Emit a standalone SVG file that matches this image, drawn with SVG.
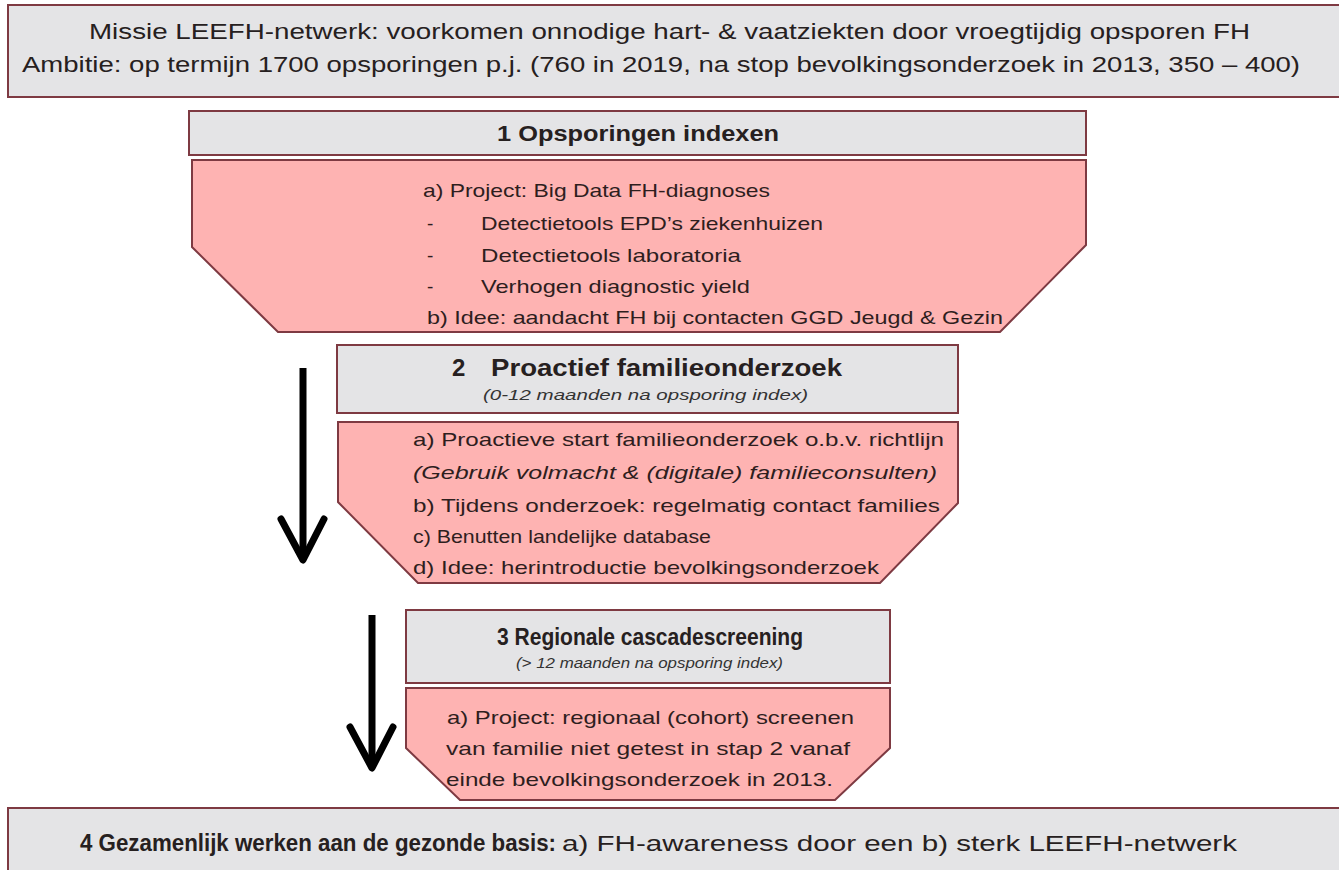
<svg xmlns="http://www.w3.org/2000/svg" width="1339" height="870" viewBox="0 0 1339 870">
<style>
.gray{fill:#e4e4e6;stroke:#7e3a42;stroke-width:2}
.pink{fill:#feb3b2;stroke:#7e3a42;stroke-width:2}
text{font-family:"Liberation Sans",Arial,sans-serif;fill:#262020}
.t1{font-size:22px}
.h{font-size:22px;font-weight:bold}
.h2{font-size:24px;font-weight:bold}
.b{font-size:19px;fill:#2e1e1e}
.s{font-size:14px;font-style:italic;fill:#333}
.i{font-style:italic}
.arrow{stroke:#000;stroke-width:7;fill:none}
</style>
<defs>
<marker id="chev" markerUnits="userSpaceOnUse" orient="auto" refX="0" refY="0" markerWidth="60" markerHeight="60" overflow="visible">
<path d="M -41 -21 L 0 0 L -41 22" fill="none" stroke="#000" stroke-width="7" stroke-linejoin="round" stroke-linecap="round"/>
</marker>
</defs>
<rect width="1339" height="870" fill="#ffffff"/>

<g id="missie">
<rect class="gray" x="8" y="5" width="1345" height="92"/>
<text class="t1" x="89" y="39" textLength="1161" lengthAdjust="spacingAndGlyphs">Missie LEEFH-netwerk: voorkomen onnodige hart- &amp; vaatziekten door vroegtijdig opsporen FH</text>
<text class="t1" x="22" y="72" textLength="1278" lengthAdjust="spacingAndGlyphs">Ambitie: op termijn 1700 opsporingen p.j. (760 in 2019, na stop bevolkingsonderzoek in 2013, 350 – 400)</text>
</g>

<g id="stap1">
<rect class="gray" x="189" y="111" width="897" height="44"/>
<text class="h" x="497" y="141" textLength="282" lengthAdjust="spacingAndGlyphs">1 Opsporingen indexen</text>
<polygon class="pink" points="192,160 1086,160 1086,245 1000,332 278,332 192,247"/>
<text class="b" x="423" y="197" textLength="347" lengthAdjust="spacingAndGlyphs">a) Project: Big Data FH-diagnoses</text>
<text class="b" x="427" y="230">-</text>
<text class="b" x="481" y="230" textLength="342" lengthAdjust="spacingAndGlyphs">Detectietools EPD’s ziekenhuizen</text>
<text class="b" x="427" y="262">-</text>
<text class="b" x="481" y="262" textLength="260" lengthAdjust="spacingAndGlyphs">Detectietools laboratoria</text>
<text class="b" x="427" y="293">-</text>
<text class="b" x="481" y="293" textLength="269" lengthAdjust="spacingAndGlyphs">Verhogen diagnostic yield</text>
<text class="b" x="427" y="324" textLength="576" lengthAdjust="spacingAndGlyphs">b) Idee: aandacht FH bij contacten GGD Jeugd &amp; Gezin</text>
</g>

<g id="stap2">
<rect class="gray" x="337" y="345" width="621" height="68"/>
<text class="h2" x="452" y="376">2</text>
<text class="h2" x="491" y="376" textLength="351" lengthAdjust="spacingAndGlyphs">Proactief familieonderzoek</text>
<text class="s" x="483" y="400" textLength="325" lengthAdjust="spacingAndGlyphs">(0-12 maanden na opsporing index)</text>
<polygon class="pink" points="338,422 958,422 958,503 880,583 418,583 338,502"/>
<text class="b" x="413" y="446" textLength="531" lengthAdjust="spacingAndGlyphs">a) Proactieve start familieonderzoek  o.b.v. richtlijn</text>
<text class="b i" x="413" y="479" textLength="524" lengthAdjust="spacingAndGlyphs">(Gebruik volmacht &amp; (digitale) familieconsulten)</text>
<text class="b" x="413" y="512" textLength="527" lengthAdjust="spacingAndGlyphs">b) Tijdens onderzoek:  regelmatig contact families</text>
<text class="b" x="413" y="543" textLength="298" lengthAdjust="spacingAndGlyphs">c) Benutten landelijke  database</text>
<text class="b" x="413" y="574" textLength="466" lengthAdjust="spacingAndGlyphs">d) Idee: herintroductie  bevolkingsonderzoek</text>
</g>

<g id="stap3">
<rect class="gray" x="406" y="610" width="484" height="73"/>
<text class="h2" x="497" y="645" textLength="306" lengthAdjust="spacingAndGlyphs">3 Regionale cascadescreening</text>
<text class="s" x="516" y="668" textLength="267" lengthAdjust="spacingAndGlyphs">(&gt; 12 maanden na opsporing index)</text>
<polygon class="pink" points="406,688 890,688 890,748 835,800 460,800 406,748"/>
<text class="b" x="447" y="724" textLength="407" lengthAdjust="spacingAndGlyphs">a) Project: regionaal (cohort) screenen</text>
<text class="b" x="446" y="755" textLength="404" lengthAdjust="spacingAndGlyphs">van familie niet getest in stap 2 vanaf</text>
<text class="b" x="446" y="786" textLength="387" lengthAdjust="spacingAndGlyphs">einde bevolkingsonderzoek  in 2013.</text>
</g>

<g id="stap4">
<rect class="gray" x="8" y="808" width="1345" height="80"/>
<text class="t1" x="80" y="851"><tspan font-weight="bold" font-size="23" x="80" textLength="476" lengthAdjust="spacingAndGlyphs">4 Gezamenlijk werken aan de gezonde basis:</tspan><tspan x="562" textLength="675" lengthAdjust="spacingAndGlyphs">a) FH-awareness door een b) sterk LEEFH-netwerk</tspan></text>
</g>

<g id="connectors">
<line class="arrow" x1="303" y1="368" x2="303" y2="560" marker-end="url(#chev)"/>
<line class="arrow" x1="372" y1="615" x2="372" y2="768" marker-end="url(#chev)"/>
</g>
</svg>
